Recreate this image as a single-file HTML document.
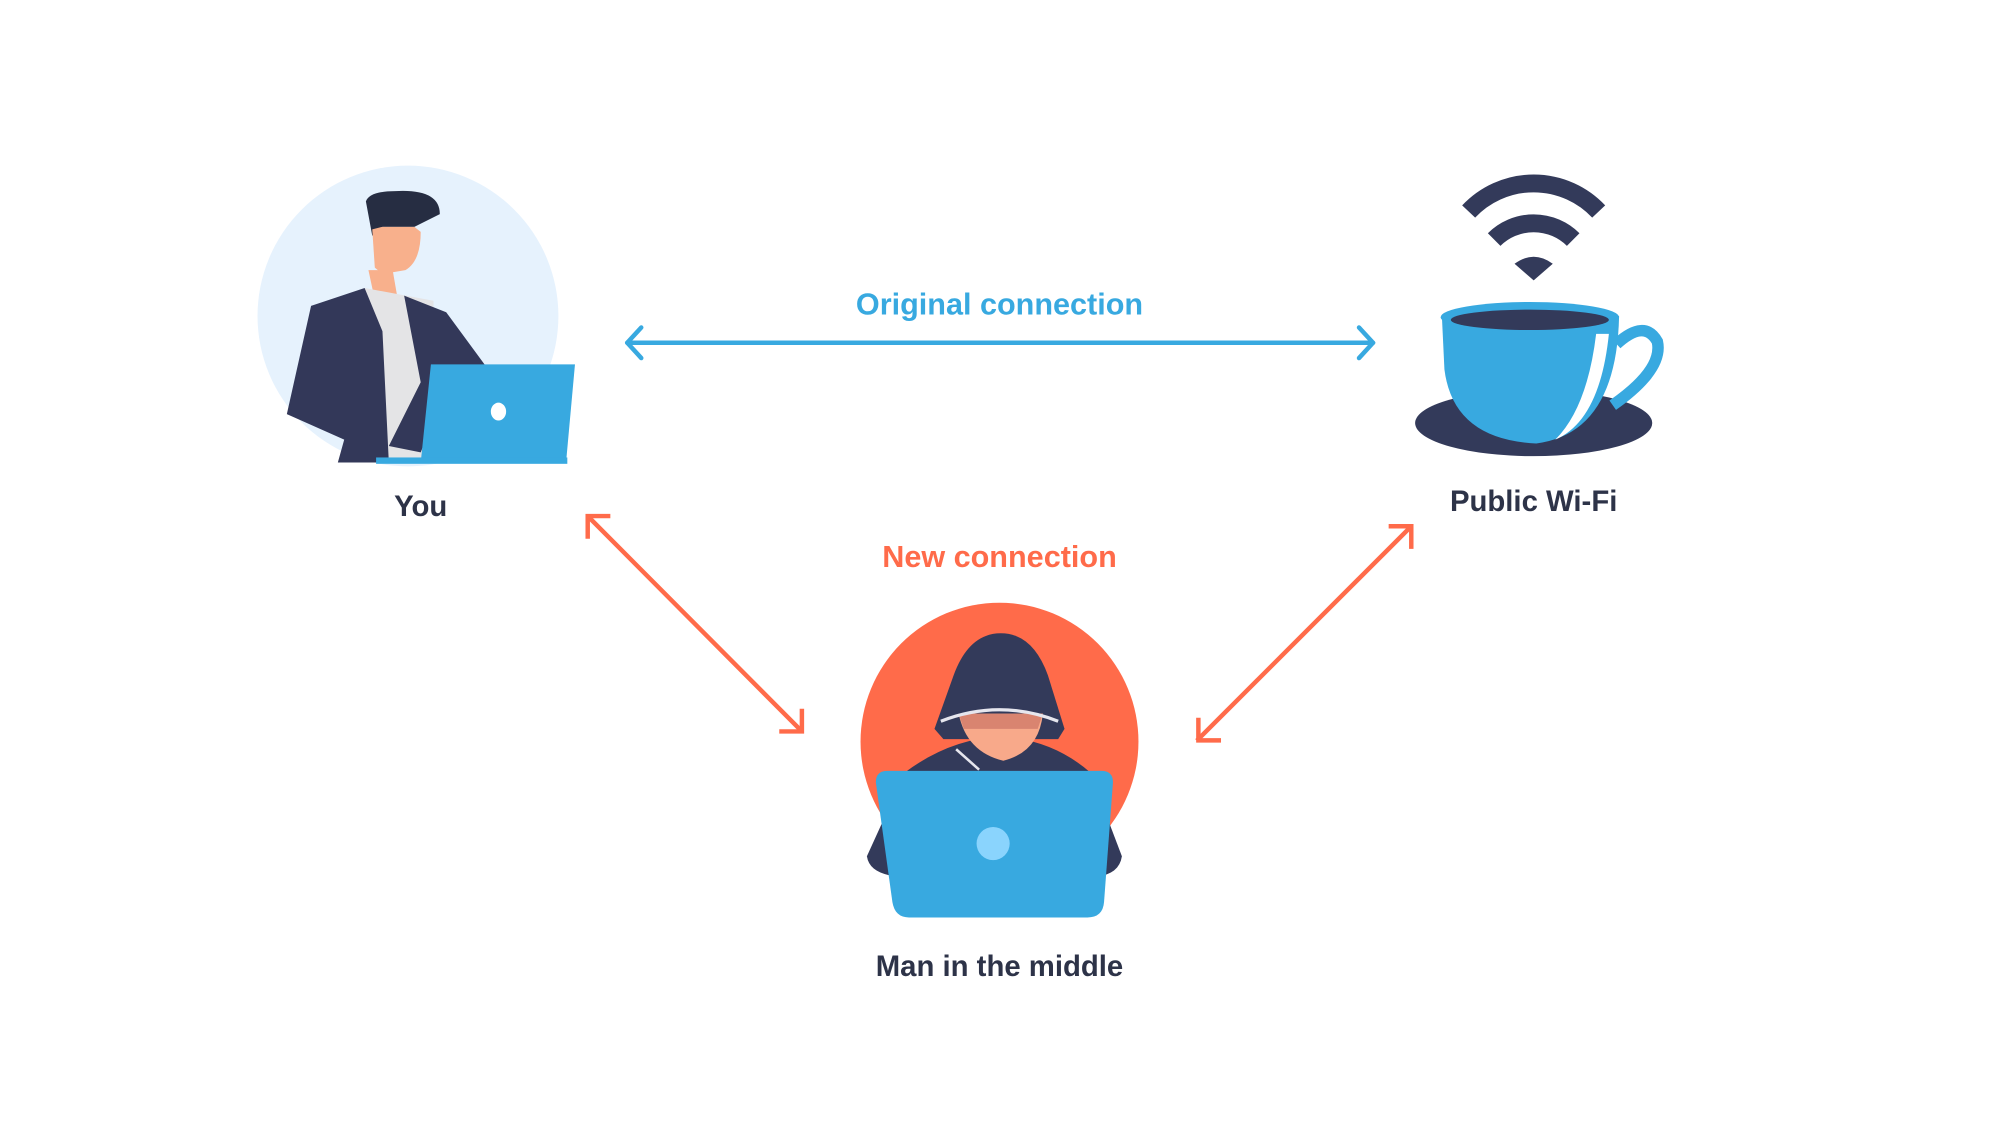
<!DOCTYPE html>
<html><head><style>html,body{margin:0;padding:0;background:#fff}svg{display:block}</style></head>
<body>
<svg width="1999" height="1143" viewBox="0 0 1568 897" preserveAspectRatio="none" xmlns="http://www.w3.org/2000/svg" font-family="Liberation Sans, sans-serif">
<rect width="1568" height="897" fill="#fff"/>
<!-- You -->
<circle cx="320" cy="248" r="118" fill="#e6f2fd"/>
<path d="M289 212 L308 212 L312 235 L295 240 Z" fill="#f8b08c"/>
<path d="M287 158 Q290 150 310 150 Q345 148 345 168 L325 178 L300 178 L292 185 Z" fill="#262d42"/>
<path d="M292 180 L300 178 L325 178 L330 182 Q330 205 318 212 L300 215 L294 210 Z" fill="#f8b08c"/>
<path d="M286 226 L340 236 L343 363 L290 363 Z" fill="#e4e4e6"/>
<path d="M286 226 L244 240 L225 325 L270 345 L265 363 L305 363 L300 260 Z" fill="#333859"/>
<path d="M317 232 L350 245 L383 290 L340 330 L330 355 L305 350 L330 300 Z" fill="#333859"/>
<path d="M338 286 L451 286 L444 363 L330 363 Z" fill="#38a9e0"/>
<rect x="295" y="359" width="150" height="5" fill="#38a9e0"/>
<ellipse cx="391" cy="323" rx="6" ry="7" fill="#fff"/>
<text x="330" y="405" text-anchor="middle" font-size="23" font-weight="bold" fill="#2d3348">You</text>
<!-- Original connection -->
<text x="784" y="247" text-anchor="middle" font-size="24" font-weight="bold" fill="#38a9e0">Original connection</text>
<g stroke="#38a9e0" stroke-width="3.5" fill="none" stroke-linecap="round" stroke-linejoin="round">
<line x1="492" y1="269" x2="1077" y2="269"/>
<polyline points="503,257 492,269 503,281"/>
<polyline points="1066,257 1077,269 1066,281"/>
</g>
<!-- New connection -->
<text x="784" y="445" text-anchor="middle" font-size="24" font-weight="bold" fill="#ff6b4a">New connection</text>
<g stroke="#ff6b4a" stroke-width="3.5" fill="none" stroke-linecap="square">
<line x1="462" y1="406" x2="628" y2="573"/>
<polyline points="461,421 461,405 477,405"/>
<polyline points="613,574 629,574 629,558"/>
<line x1="940" y1="580" x2="1106" y2="414"/>
<polyline points="940,565 940,581 956,581"/>
<polyline points="1091,413 1107,413 1107,429"/>
</g>
<!-- Wi-Fi cup -->
<g fill="none" stroke="#333a5a" stroke-width="14">
<path d="M1152 166 A70 70 0 0 1 1254 166"/>
<path d="M1172 188 A44 44 0 0 1 1234 188"/>
</g>
<path d="M1188 207 Q1203 196 1218 207 L1203 220 Z" fill="#333a5a"/>
<ellipse cx="1203" cy="332" rx="93" ry="26" fill="#333a5a"/>
<path d="M1268 270 Q1290 250 1300 268 Q1305 290 1265 318" fill="none" stroke="#38a9e0" stroke-width="9"/>
<path d="M1131 248 L1270 248 Q1268 340 1205 348 Q1140 345 1133 290 Z" fill="#38a9e0"/>
<path d="M1252 262 L1262 262 Q1255 330 1220 345 Q1245 320 1252 262 Z" fill="#fff"/>
<ellipse cx="1200" cy="249" rx="70" ry="12" fill="#38a9e0"/>
<ellipse cx="1200" cy="251" rx="62" ry="8" fill="#333a5a"/>
<text x="1203" y="401" text-anchor="middle" font-size="23" font-weight="bold" fill="#2d3348">Public Wi-Fi</text>
<!-- Man in the middle -->
<circle cx="784" cy="582" r="109" fill="#ff6b4a"/>
<path d="M710 606 Q745 580 784 578 Q825 580 855 606 L880 672 Q878 686 860 688 L705 688 Q682 686 680 672 Z" fill="#333a5a"/>
<path d="M785 497 Q810 497 822 530 L835 572 L830 580 L740 580 L733 572 L748 530 Q760 497 785 497 Z" fill="#333a5a"/>
<path d="M752 560 L818 560 Q815 590 787 597 Q758 590 752 560 Z" fill="#f8a98a"/>
<path d="M752 560 L818 560 L814 572 L756 572 Z" fill="#d98470"/>
<path d="M738 566 Q784 548 830 566" fill="none" stroke="#e6e6ee" stroke-width="2.5"/>
<path d="M750 588 L768 604" stroke="#e6e6ee" stroke-width="2"/>
<path d="M696 605 L864 605 Q873 605 873 614 L866 708 Q865 720 853 720 L713 720 Q702 720 700 708 L687 614 Q687 605 696 605 Z" fill="#38a9e0"/>
<circle cx="779" cy="662" r="13" fill="#8ad4fd"/>
<text x="784" y="766" text-anchor="middle" font-size="23" font-weight="bold" fill="#2d3348">Man in the middle</text>
</svg>
</body></html>
